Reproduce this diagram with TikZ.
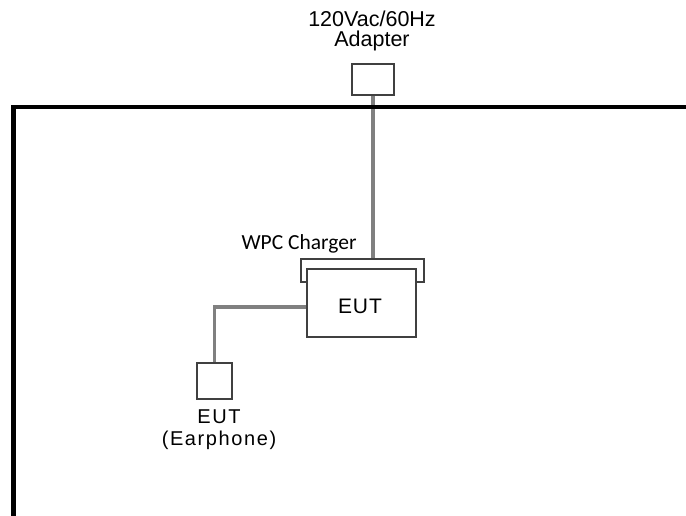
\documentclass[tikz,border=0pt]{standalone}
\usepackage{fontspec}
\setmainfont{Liberation Sans}
\newfontfamily\calib{Carlito}
\newfontfamily\spaced[LetterSpace=8]{Liberation Sans}
\newfontfamily\spacedb[LetterSpace=4]{Liberation Sans}
\begin{document}
\begin{tikzpicture}[x=1pt,y=-1pt,
  box/.style={draw=black!75,line width=1.8pt,fill=white,inner sep=0pt,minimum width=#1},
  cable/.style={draw=black!50,line width=3.5pt},
  frame/.style={draw=black,line width=4.5pt},
  lbl/.style={inner sep=0pt,anchor=base,font=\fontsize{21.5}{21.5}\selectfont}]
\useasboundingbox (0,0) rectangle (686,516);
\node[box=42,minimum height=31] (adapter) at (373,79.5) {};
\node[box=123,minimum height=23] (charger) at (362.5,270.5) {};
\draw[cable] (adapter.south) -- (adapter.south |- charger.north);
\coordinate (fbl) at (13.5,530);
\coordinate (ftl) at (13.5,107);
\coordinate (ftr) at (690,107);
\draw[frame] (fbl) -- (ftl) -- (ftr);
\node[box=35,minimum height=36] (ear) at (214.5,381) {};
\node[box=109,minimum height=68] (eut) at (361.5,303) {};
\draw[cable] ([yshift=-4pt]eut.west) -| (ear.north);
\node[lbl] (t1) at (372,27) {120Vac/60Hz};
\node[lbl] (t2) at (372,47) {Adapter};
\node[lbl,font=\calib\fontsize{21.5}{21.5}\selectfont] (t3) at (299,249) {WPC Charger};
\node[lbl,font=\spacedb\fontsize{21}{21}\selectfont] (t4) at (360,313) {EUT};
\node[lbl,font=\spaced\fontsize{20}{20}\selectfont] (t5) at (219,423) {EUT};
\node[lbl,font=\spaced\fontsize{20}{20}\selectfont] (t6) at (219,445) {(Earphone)};
\end{tikzpicture}
\end{document}
